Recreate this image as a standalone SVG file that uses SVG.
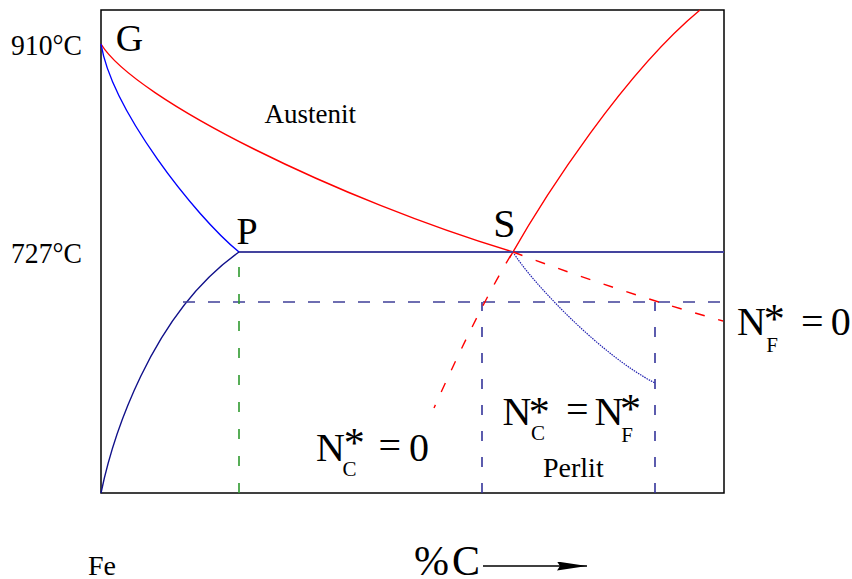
<svg xmlns="http://www.w3.org/2000/svg" width="852" height="579" viewBox="0 0 852 579">
<style>
.red{fill:none;stroke:#ff0000;stroke-width:1.4}
.redd{fill:none;stroke:#ff0000;stroke-width:1.4;stroke-dasharray:10 14}
.blu{fill:none;stroke:#0000ff;stroke-width:1.4}
.navy{fill:none;stroke:#10108a;stroke-width:1.4}
.iso{fill:none;stroke:#44449e;stroke-width:1.8}
.bd{fill:none;stroke:#3f3f98;stroke-width:1.6;stroke-dasharray:12 13}
.bdv{fill:none;stroke:#34349a;stroke-width:1.6;stroke-dasharray:10 16}
.gd{fill:none;stroke:#2e9a2e;stroke-width:1.6;stroke-dasharray:10 17}
.dot{fill:none;stroke:#2020b0;stroke-width:1.2;stroke-dasharray:1.5 1}
.big{font-size:40px}
.sub{font-size:21px}
</style>
<defs>
<marker id="ah" markerUnits="userSpaceOnUse" markerWidth="32" markerHeight="10" refX="30" refY="4.5" orient="auto">
<path d="M0,0 L30,4.5 L0,9 L3,4.5 z" fill="#000"/>
</marker>
</defs>
<rect id="frame" x="101" y="10" width="623" height="483" fill="none" stroke="#000" stroke-width="1.5"/>
<g id="connectors">
<path class="red" d="M101,44 C135,100 340,200 513,252"/>
<path class="red" d="M509.5,258 C545,195 625,72 700,10"/>
<path class="blu" d="M101,44 C112,110 194,215 239,252"/>
<path class="navy" d="M101,493 C112,440 150,315 239,252"/>
<line class="iso" x1="239" y1="252" x2="724" y2="252"/>
<line class="bd" x1="183" y1="302" x2="724" y2="302"/>
<line class="gd" x1="239" y1="493" x2="239" y2="253"/>
<line class="bdv" x1="482" y1="493" x2="482" y2="302"/>
<line class="bdv" x1="655" y1="493" x2="655" y2="302"/>
<path class="dot" d="M513,252 C530,280 600,355 655,383"/>
<path class="redd" d="M511,255 Q478,310 434,408"/>
<path class="redd" d="M513,252 Q620,292 723,321"/>
<line x1="483" y1="566" x2="587" y2="566" stroke="#000" stroke-width="1.5" marker-end="url(#ah)"/>
</g>
<g font-family="'Liberation Serif', 'DejaVu Serif', serif" fill="#000">
<g id="axis-labels">
<text x="11" y="55" font-size="29" textLength="71" lengthAdjust="spacingAndGlyphs">910°C</text>
<text x="11" y="263" font-size="29" textLength="71" lengthAdjust="spacingAndGlyphs">727°C</text>
<text x="88" y="575" font-size="28">Fe</text>
<text y="575" font-size="42"><tspan x="414">%</tspan><tspan x="452">C</tspan></text>
</g>
<g id="G"><text x="115.8" y="50.5" font-size="38">G</text></g>
<g id="P"><text x="236.4" y="243.5" font-size="38">P</text></g>
<g id="S"><text x="493.3" y="237" font-size="40">S</text></g>
<g id="austenit"><text x="264.6" y="122.5" font-size="27">Austenit</text></g>
<g id="perlit"><text x="543" y="477" font-size="28">Perlit</text></g>
<g id="NF0">
<text class="big" x="737" y="335">N</text>
<text x="763.8" y="333.4" font-size="42">*</text>
<text class="sub" x="766.3" y="352">F</text>
<text class="big" x="801" y="335">=</text>
<text class="big" x="830.7" y="335">0</text>
</g>
<g id="NC0">
<text class="big" x="316" y="461">N</text>
<text x="343.8" y="457.4" font-size="42">*</text>
<text class="sub" x="342.5" y="476">C</text>
<text class="big" x="378.5" y="459">=</text>
<text class="big" x="409" y="461">0</text>
</g>
<g id="NCNF">
<text class="big" x="502.4" y="425">N</text>
<text x="528.8" y="426.4" font-size="42">*</text>
<text class="sub" x="531" y="440">C</text>
<text class="big" x="566" y="423">=</text>
<text class="big" x="594.4" y="425">N</text>
<text x="620" y="423.4" font-size="42">*</text>
<text class="sub" x="621.3" y="442">F</text>
</g>
</g>
</svg>
